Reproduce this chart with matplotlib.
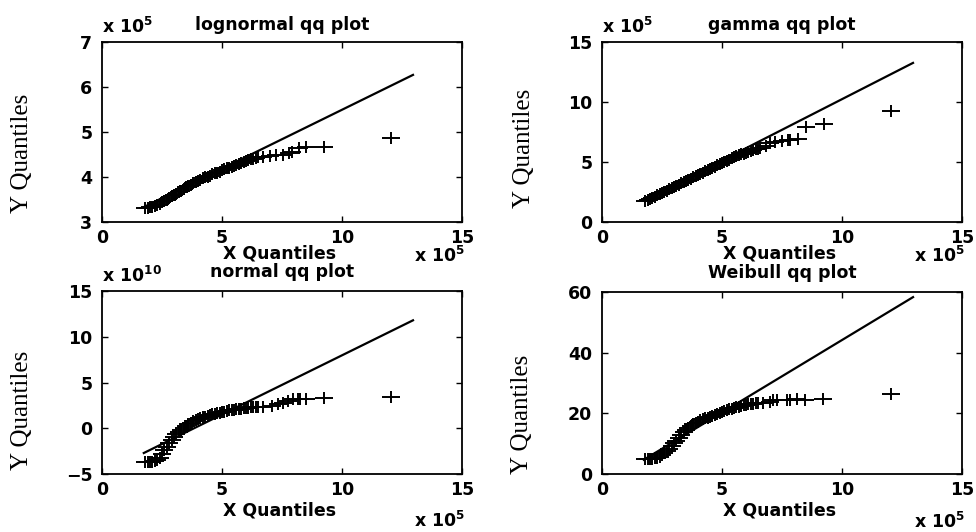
import matplotlib
matplotlib.use("Agg")
import matplotlib.pyplot as plt
from matplotlib.path import Path

plt.rcParams["mathtext.fontset"] = "custom"
plt.rcParams["mathtext.bf"] = "DejaVu Sans:bold"
plt.rcParams["mathtext.rm"] = "DejaVu Sans:bold"
plt.rcParams["mathtext.default"] = "bf"

# ---- data: X quantiles in units of 1e5 ----
# bulk of the sample (shared by all four panels)
x_bulk = [1.8, 1.9, 2.0, 2.1, 2.2, 2.3, 2.4, 2.5, 2.6, 2.7, 2.8, 2.9, 3.0, 3.1, 3.2, 3.3,
          3.4, 3.5, 3.6, 3.7, 3.8, 3.9, 4.0, 4.1, 4.2, 4.3, 4.4, 4.5, 4.6, 4.7, 4.8, 4.9,
          5.0, 5.1, 5.2, 5.3, 5.4, 5.5, 5.6, 5.7, 5.8, 5.9, 6.0, 6.1, 6.2, 6.3, 6.4, 6.5]

y_lognormal_bulk = [3.31, 3.32, 3.33, 3.34, 3.36, 3.38, 3.41, 3.44, 3.47, 3.50, 3.53, 3.57,
                    3.60, 3.63, 3.67, 3.70, 3.73, 3.77, 3.80, 3.83, 3.86, 3.89, 3.92, 3.94,
                    3.97, 3.99, 4.01, 4.03, 4.06, 4.08, 4.10, 4.12, 4.15, 4.17, 4.19, 4.21,
                    4.23, 4.25, 4.27, 4.29, 4.31, 4.33, 4.35, 4.37, 4.39, 4.41, 4.42, 4.44]
y_gamma_bulk = [1.72, 1.82, 1.92, 2.02, 2.12, 2.22, 2.32, 2.42, 2.52, 2.62, 2.72, 2.82,
                2.92, 3.02, 3.12, 3.22, 3.32, 3.42, 3.52, 3.62, 3.72, 3.82, 3.92, 4.02,
                4.12, 4.22, 4.32, 4.42, 4.52, 4.62, 4.72, 4.82, 4.92, 5.02, 5.12, 5.20,
                5.30, 5.38, 5.46, 5.55, 5.63, 5.70, 5.78, 5.85, 5.92, 6.00, 6.06, 6.12]
y_normal_bulk = [-3.70, -3.70, -3.68, -3.65, -3.60, -3.50, -3.25, -2.85, -2.40, -2.00, -1.60, -1.25,
                 -0.95, -0.68, -0.42, -0.18, 0.05, 0.25, 0.45, 0.62, 0.78, 0.90, 1.00, 1.10,
                 1.20, 1.28, 1.36, 1.44, 1.51, 1.58, 1.65, 1.71, 1.77, 1.83, 1.89, 1.94,
                 1.99, 2.03, 2.07, 2.11, 2.15, 2.19, 2.22, 2.25, 2.28, 2.31, 2.34, 2.37]
y_weibull_bulk = [4.8, 4.85, 4.9, 5.0, 5.15, 5.4, 5.75, 6.2, 6.8, 7.5, 8.3, 9.2,
                  10.1, 11.0, 12.0, 12.9, 13.8, 14.6, 15.3, 15.9, 16.4, 16.9, 17.3, 17.7,
                  18.0, 18.3, 18.6, 18.9, 19.2, 19.5, 19.8, 20.1, 20.4, 20.7, 21.0, 21.3,
                  21.5, 21.8, 22.0, 22.2, 22.4, 22.6, 22.8, 23.0, 23.1, 23.2, 23.3, 23.4]

# upper tail of the sample, per panel
x_lognormal_tail = [6.7, 7.0, 7.25, 7.55, 7.8, 7.9, 8.2, 8.5, 9.25, 12.05]
y_lognormal_tail = [4.45, 4.47, 4.49, 4.50, 4.53, 4.56, 4.65, 4.67, 4.67, 4.86]
x_gamma_tail = [6.6, 6.85, 7.0, 7.2, 7.5, 7.75, 7.85, 8.15, 8.5, 9.25, 12.05]
y_gamma_tail = [6.2, 6.3, 6.6, 6.7, 6.75, 6.8, 6.85, 6.95, 7.95, 8.2, 9.25]
x_normal_tail = [6.72, 7.07, 7.35, 7.55, 7.76, 7.97, 8.18, 8.25, 8.5, 9.25, 12.05]
y_normal_tail = [2.35, 2.45, 2.7, 2.8, 2.95, 3.15, 3.15, 3.25, 3.25, 3.35, 3.4]
x_weibull_tail = [6.72, 7.0, 7.14, 7.28, 7.7, 7.83, 8.11, 8.46, 9.2, 12.03]
y_weibull_tail = [23.4, 23.8, 24.3, 24.5, 24.3, 24.5, 24.7, 24.5, 24.7, 26.5]

# reference lines (endpoints)
fit_x = [1.7, 13.0]
fit_lognormal = [3.32, 6.28]
fit_gamma = [1.76, 13.3]
fit_normal = [-2.76, 11.85]
fit_weibull = [4.5, 58.5]

x_ticks = [0, 5, 10, 15]
titles = ["lognormal qq plot", "gamma qq plot", "normal qq plot", "Weibull qq plot"]

# ---- styling ----
SANS = "DejaVu Sans"
SERIF = "Liberation Serif"
W, H = 976, 532

plus = Path([(-1, 0), (1, 0), (0, -0.72), (0, 0.72)],
            [Path.MOVETO, Path.LINETO, Path.MOVETO, Path.LINETO])

fig = plt.figure(figsize=(W / 100, H / 100), dpi=100)


def px_axes(left, top, right, bottom):
    return fig.add_axes([left / W, 1 - bottom / H, (right - left) / W, (bottom - top) / H])


panels = [
    dict(box=(102, 42, 462, 222), yb=y_lognormal_bulk, xt=x_lognormal_tail,
         yt=y_lognormal_tail, fit=fit_lognormal, ylim=(3, 7), yticks=[3, 4, 5, 6, 7],
         yexp="5", title_pad=8.5, xlab_off=-36, xexp_off=-40, ylab_off=(-80, -21)),
    dict(box=(602, 42, 962, 222), yb=y_gamma_bulk, xt=x_gamma_tail,
         yt=y_gamma_tail, fit=fit_gamma, ylim=(0, 15), yticks=[0, 5, 10, 15],
         yexp="5", title_pad=8.5, xlab_off=-36, xexp_off=-40, ylab_off=(-78, -16)),
    dict(box=(102, 291, 462, 474), yb=y_normal_bulk, xt=x_normal_tail,
         yt=y_normal_tail, fit=fit_normal, ylim=(-5, 15), yticks=[-5, 0, 5, 10, 15],
         yexp="10", title_pad=10, xlab_off=-42, xexp_off=-53, ylab_off=(-80, -28)),
    dict(box=(602, 292, 962, 474), yb=y_weibull_bulk, xt=x_weibull_tail,
         yt=y_weibull_tail, fit=fit_weibull, ylim=(0, 60), yticks=[0, 20, 40, 60],
         yexp=None, title_pad=10, xlab_off=-42, xexp_off=-54, ylab_off=(-80, -31)),
]

for p, title in zip(panels, titles):
    ax = px_axes(*p["box"])
    ax.plot(fit_x, p["fit"], color="black", lw=1.6, solid_capstyle="butt")
    ax.plot(x_bulk + p["xt"], p["yb"] + p["yt"], linestyle="none", marker=plus,
            markersize=12.5, markeredgewidth=1.4, color="black")
    ax.set_xlim(0, 15)
    ax.set_ylim(*p["ylim"])
    ax.set_xticks(x_ticks)
    ax.set_yticks(p["yticks"])
    ax.tick_params(direction="in", length=4, width=1, top=True, right=True,
                   labelsize=12.5)
    ax.tick_params(axis="x", pad=5)
    ax.tick_params(axis="y", pad=7)
    for lab in ax.get_xticklabels() + ax.get_yticklabels():
        lab.set_fontfamily(SANS)
        lab.set_fontweight("bold")
    for s in ax.spines.values():
        s.set_linewidth(1.3)

    ax.set_title(title, fontsize=12.5, fontweight="bold", family=SANS,
                 pad=p["title_pad"])
    if p["yexp"]:
        ax.annotate(r"x 10$^{" + p["yexp"] + "}$", xy=(0, 1), xycoords="axes fraction",
                    xytext=(0, 9), textcoords="offset pixels", ha="left",
                    va="baseline", fontsize=12.5, fontweight="bold", family=SANS)
    ax.annotate("X Quantiles", xy=(0.5, 0), xycoords="axes fraction",
                xytext=(-2, p["xlab_off"]), textcoords="offset pixels", ha="center",
                va="baseline", fontsize=12.5, fontweight="bold", family=SANS)
    ax.annotate(r"x 10$^{5}$", xy=(1, 0), xycoords="axes fraction",
                xytext=(3, p["xexp_off"]), textcoords="offset pixels", ha="right",
                va="baseline", fontsize=12.5, fontweight="bold", family=SANS)
    ax.annotate("Y Quantiles", xy=(0, 0.5), xycoords="axes fraction",
                xytext=p["ylab_off"], textcoords="offset pixels", ha="center",
                va="center", rotation=90, fontsize=18, family=SERIF)

fig.savefig("out.png", dpi=100, facecolor="white")
